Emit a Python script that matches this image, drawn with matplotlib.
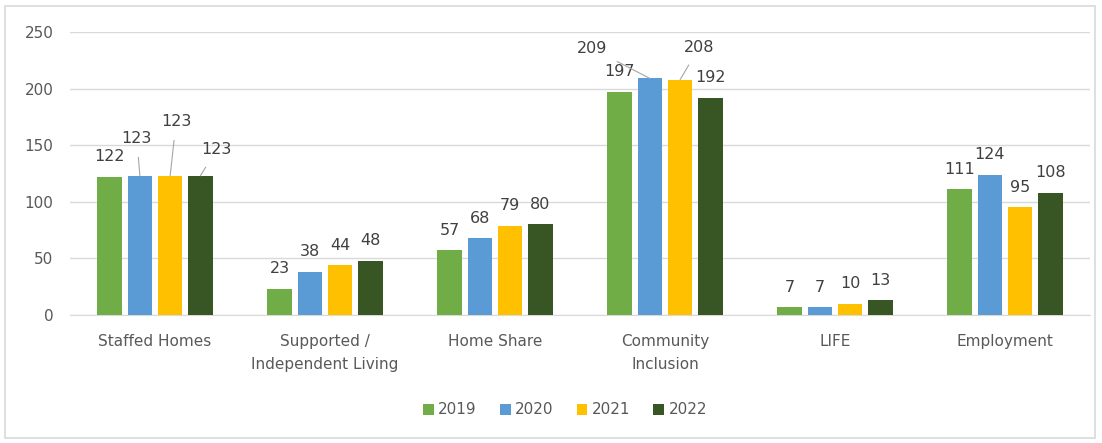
import numpy as np
import matplotlib
matplotlib.use('Agg')
import matplotlib.pyplot as plt
from matplotlib.patches import Rectangle

categories = ['Staffed Homes', 'Supported /\nIndependent Living', 'Home Share',
              'Community\nInclusion', 'LIFE', 'Employment']
years = ['2019', '2020', '2021', '2022']
v2019 = [122, 23, 57, 197, 7, 111]
v2020 = [123, 38, 68, 209, 7, 124]
v2021 = [123, 44, 79, 208, 10, 95]
v2022 = [123, 48, 80, 192, 13, 108]
series = [v2019, v2020, v2021, v2022]
colors = ['#70AD47', '#5B9BD5', '#FFC000', '#375623']

# label nudges in pixels (dx, dy) for labels moved off their bars, keyed by (series, category)
nudges = {(1, 0): (-3, 17), (2, 0): (6, 34), (3, 0): (16, 6),
          (1, 3): (-58, 10), (2, 3): (19, 12)}

fig = plt.figure(figsize=(11.02, 4.43), dpi=100)
ax = fig.add_axes([70 / 1102, 1 - 315 / 443, 1020 / 1102, 283 / 443])

x = np.arange(len(categories))
width = 0.145
step = 0.178
px = 0.72  # points per pixel

for i, (vals, col, yr) in enumerate(zip(series, colors, years)):
    xs = x + (i - 1.5) * step
    ax.bar(xs, vals, width, color=col, label=yr, zorder=3)
    for j, (xx, v) in enumerate(zip(xs, vals)):
        dx, dy = nudges.get((i, j), (0, 0))
        off = (dx * px, (20 + dy) * px)
        if (i, j) in nudges:
            ax.annotate(str(v), (xx, v), xytext=off, textcoords='offset points',
                        ha='center', va='center', fontsize=11.5, color='#404040',
                        arrowprops=dict(arrowstyle='-', color='#A6A6A6', lw=0.8,
                                        shrinkA=6, shrinkB=0))
        else:
            ax.annotate(str(v), (xx, v), xytext=off, textcoords='offset points',
                        ha='center', va='center', fontsize=11.5, color='#404040')

ax.set_xlim(-0.5, len(categories) - 0.5)
ax.set_ylim(0, 250)
ax.set_yticks(range(0, 251, 50))
ax.set_xticks(x)
ax.set_xticklabels(categories, fontsize=11, color='#595959', linespacing=1.65)
ax.tick_params(axis='y', labelsize=11, labelcolor='#595959', length=0, pad=12)
ax.tick_params(axis='x', length=0, pad=14)
ax.grid(axis='y', color='#D9D9D9', lw=1, zorder=0)
for s in ['top', 'right', 'left']:
    ax.spines[s].set_visible(False)
ax.spines['bottom'].set_color('#D9D9D9')

fig.legend(loc='center', bbox_to_anchor=(565 / 1102, 1 - 410 / 443), ncol=4, frameon=False,
           fontsize=11, handlelength=0.7, handleheight=0.7, handletextpad=0.3,
           columnspacing=1.5, labelcolor='#595959')

fig.patches.append(Rectangle((5 / 1102, 5 / 443), 1090 / 1102, 432 / 443,
                             transform=fig.transFigure, fill=False,
                             edgecolor='#D9D9D9', lw=1.2))

fig.savefig('out.png', dpi=100)
